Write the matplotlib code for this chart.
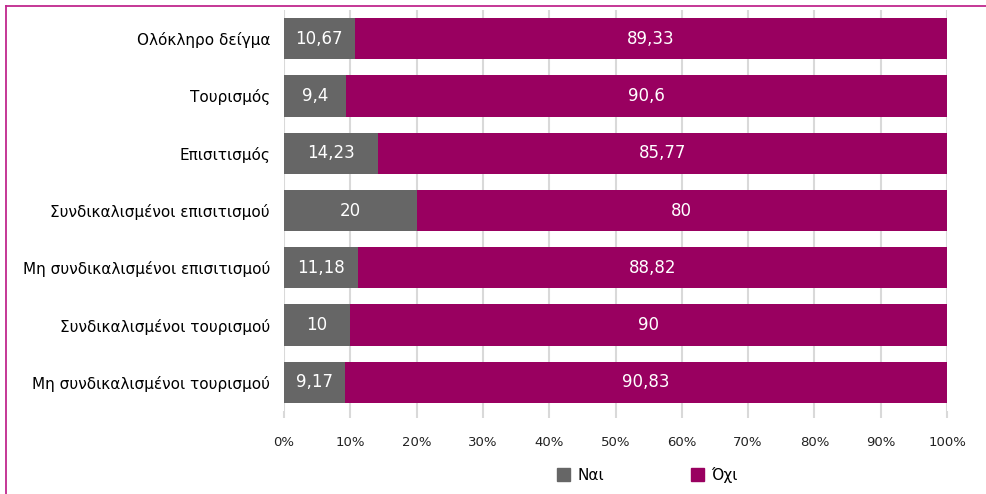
import matplotlib.pyplot as plt
from matplotlib.lines import Line2D
from matplotlib.patches import Patch

categories = ['Ολόκληρο δείγμα', 'Τουρισμός', 'Επισιτισμός',
              'Συνδικαλισμένοι επισιτισμού', 'Μη συνδικαλισμένοι επισιτισμού',
              'Συνδικαλισμένοι τουρισμού', 'Μη συνδικαλισμένοι τουρισμού']
nai = [10.67, 9.4, 14.23, 20, 11.18, 10, 9.17]
oxi = [89.33, 90.6, 85.77, 80, 88.82, 90, 90.83]
nai_labels = ['10,67', '9,4', '14,23', '20', '11,18', '10', '9,17']
oxi_labels = ['89,33', '90,6', '85,77', '80', '88,82', '90', '90,83']
ticks = list(range(0, 101, 10))

grey = '#666666'
magenta = '#990060'
frame = '#C0288E'

plt.rcParams['font.family'] = ['DejaVu Sans']

fig = plt.figure(figsize=(9.87, 4.94), dpi=100)
ax = fig.add_axes([284 / 987, 1 - 411 / 494, (947 - 284) / 987, (411 - 10) / 494])

y = list(range(len(categories)))
ax.barh(y, nai, height=0.72, color=grey, zorder=2)
ax.barh(y, oxi, left=nai, height=0.72, color=magenta, zorder=2)

for i in y:
    ax.text(nai[i] / 2, i, nai_labels[i], ha='center', va='center',
            color='white', fontsize=12, zorder=3)
    ax.text(nai[i] + oxi[i] / 2, i, oxi_labels[i], ha='center', va='center',
            color='white', fontsize=12, zorder=3)

ax.set_ylim(len(categories) - 0.5, -0.5)
ax.set_xlim(0, 100)
ax.set_yticks(y)
ax.set_yticklabels(categories, fontsize=11)
ax.tick_params(axis='y', length=0, pad=10)
ax.set_xticks(ticks)
ax.set_xticklabels([f'{t}%' for t in ticks], fontsize=9.5, color='#222222')
ax.tick_params(axis='x', length=5, width=1.5, color='#d9d9d9', pad=13)
ax.grid(axis='x', color='#d9d9d9', linewidth=1.5, zorder=0)
for s in ax.spines.values():
    s.set_visible(False)

handles = [Patch(color=grey, label='Ναι'), Patch(color=magenta, label='Όχι')]
fig.legend(handles=handles, loc='center', bbox_to_anchor=(0.656, 0.039), ncol=2,
           frameon=False, fontsize=11, handlelength=0.85, handleheight=0.85,
           handletextpad=0.5, columnspacing=5.65)

fig.add_artist(Line2D([6 / 987, 1], [1 - 6 / 494] * 2, color=frame, lw=1.3,
                      transform=fig.transFigure))
fig.add_artist(Line2D([6 / 987] * 2, [0, 1 - 6 / 494], color=frame, lw=1.3,
                      transform=fig.transFigure))

fig.savefig('out.png', dpi=100)
